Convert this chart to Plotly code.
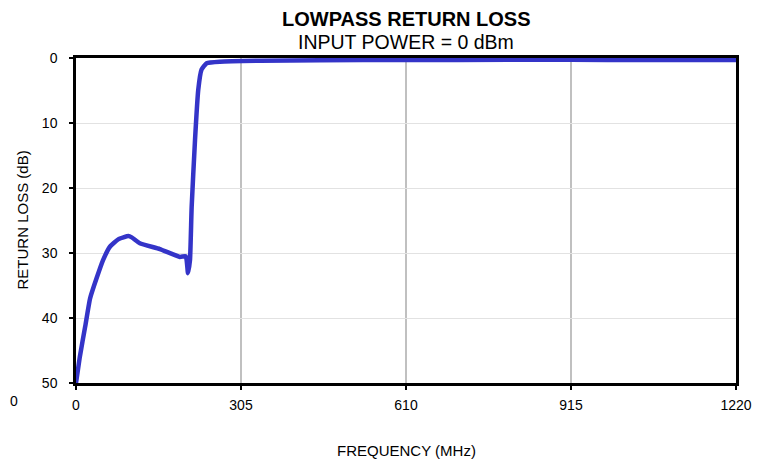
import plotly.graph_objects as go

freq_mhz = [0, 7, 17, 26, 38, 50, 63, 78, 97, 103, 118, 155, 192, 203, 207, 210.7,
            213.8, 220, 226, 232, 241.5, 266, 340, 450, 610, 800, 915, 1050, 1220]
return_loss_db = [50, 46, 41.3, 37, 33.9, 31.1, 29, 27.9, 27.4, 27.6, 28.5, 29.4, 30.6, 30.5,
                  33.1, 31.1, 22.9, 12.6, 4.9, 1.8, 0.8, 0.57, 0.42, 0.35, 0.3, 0.28, 0.28, 0.3, 0.32]
x_ticks = [0, 305, 610, 915, 1220]
y_ticks = [0, 10, 20, 30, 40, 50]

fig = go.Figure()
fig.add_trace(go.Scatter(x=freq_mhz, y=return_loss_db, mode="lines",
                         line=dict(color="#3434c8", width=4.5, shape="spline", smoothing=0.4),
                         showlegend=False, cliponaxis=True))

font = dict(family="Liberation Sans, Arial, sans-serif", color="#000000")
fig.update_layout(
    width=770, height=462,
    margin=dict(l=68, r=42, t=50, b=87),
    paper_bgcolor="white", plot_bgcolor="white",
    font=dict(size=14, **font),
    xaxis=dict(range=[0, 1220], tickvals=x_ticks, ticktext=[str(v) for v in x_ticks],
               showgrid=True, gridcolor="#c0c0c0", gridwidth=2, automargin=False,
               showline=True, linecolor="black", linewidth=2.5, mirror=True,
               ticks="outside", ticklen=4, tickcolor="black", tickwidth=2,
               ticklabelstandoff=3,
               zeroline=False, tickfont=dict(size=14, **font)),
    yaxis=dict(range=[50, 0], tickvals=y_ticks, ticktext=[str(v) for v in y_ticks],
               showgrid=True, gridcolor="#e2e2e2", gridwidth=1, automargin=False,
               showline=True, linecolor="black", linewidth=2.5, mirror=True,
               ticks="outside", ticklen=4, tickcolor="black", tickwidth=2,
               ticklabelstandoff=9,
               zeroline=False, tickfont=dict(size=14, **font)),
    annotations=[
        dict(text="<b>LOWPASS RETURN LOSS</b>", x=0.5, y=1, xref="paper", yref="paper",
             xanchor="center", yanchor="middle", yshift=39, showarrow=False,
             font=dict(size=20, **font)),
        dict(text="INPUT POWER = 0 dBm", x=0.5, y=1, xref="paper", yref="paper",
             xanchor="center", yanchor="middle", yshift=16, showarrow=False,
             font=dict(size=19.5, **font)),
        dict(text="FREQUENCY (MHz)", x=0.5, y=0, xref="paper", yref="paper",
             xanchor="center", yanchor="middle", yshift=-67, showarrow=False,
             font=dict(size=15, **font)),
        dict(text="RETURN LOSS (dB)", x=0, y=0.5, xref="paper", yref="paper",
             xanchor="center", yanchor="middle", xshift=-54, showarrow=False,
             textangle=-90, font=dict(size=15, **font)),
        dict(text="0", x=0, y=0, xref="paper", yref="paper",
             xanchor="left", yanchor="middle", xshift=-68, yshift=-18, showarrow=False,
             font=dict(size=14, **font)),
    ],
)

fig.write_html("out.html")
